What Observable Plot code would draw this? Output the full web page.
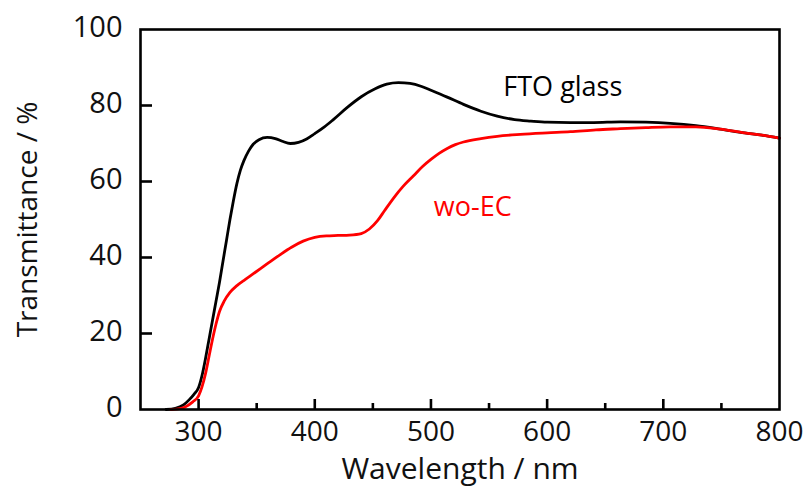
<!DOCTYPE html>
<html>
<head>
<meta charset="utf-8">
<script src="https://cdn.jsdelivr.net/npm/d3@7"></script>
<script src="https://cdn.jsdelivr.net/npm/@observablehq/plot@0.6"></script>
<style>
  html, body { margin: 0; padding: 0; background: #fff; }
  #chart svg { display: block; }
</style>
</head>
<body>
<div id="chart"></div>
<script>
// ---- Data ----
const ftoWavelength = [272, 280, 287, 292, 296, 300, 303, 306, 309, 312, 315, 318, 321, 324, 327, 330, 333, 336, 339, 343, 347, 352, 359, 366, 372, 379, 386, 393, 400, 408, 416, 428, 440, 452, 462, 472, 482, 492, 500, 514, 528, 543, 557, 572, 586, 600, 620, 640, 663, 685, 706, 728, 749, 770, 785, 800];
const ftoTransmittance = [0, 0.3, 1.2, 2.6, 4, 5.8, 9, 13.5, 18.5, 23.5, 28.5, 33.5, 39, 44.5, 50, 55, 59.5, 63, 65.5, 68, 69.8, 71, 71.6, 71.3, 70.6, 70, 70.3, 71.2, 72.6, 74.3, 76.3, 79.5, 82.3, 84.4, 85.6, 86, 85.8, 85, 84, 82.2, 80.3, 78.5, 77.2, 76.3, 75.9, 75.6, 75.5, 75.5, 75.7, 75.6, 75.3, 74.7, 73.8, 72.8, 72.2, 71.4];

const woWavelength = [276, 281, 288, 295, 300, 303, 306, 309, 312, 315, 318, 322, 327, 333, 340, 346, 353, 362, 370, 380, 390, 400, 410, 420, 430, 440, 447, 454, 460, 468, 476, 485, 493, 500, 507, 514, 521, 528, 543, 557, 577, 600, 620, 642, 663, 685, 706, 728, 749, 770, 785, 800];
const woTransmittance = [0, 0.1, 0.6, 2, 3.6, 6, 9.5, 14, 18.5, 22.5, 25.8, 28.5, 30.8, 32.6, 34.2, 35.5, 37, 39, 40.7, 42.7, 44.3, 45.3, 45.7, 45.8, 45.9, 46.3, 47.5, 49.7, 52.3, 55.7, 58.7, 61.5, 64, 65.8, 67.4, 68.7, 69.7, 70.4, 71.3, 71.9, 72.4, 72.8, 73.1, 73.6, 73.9, 74.2, 74.4, 74.4, 73.8, 72.8, 72.2, 71.4];

const seriesNames = ["FTO glass", "wo-EC"];
const seriesColors = ["#000000", "#ff0000"];
const labelWavelength = [613.5, 536];
const labelTransmittance = [84.7, 53.2];

const xMajorTicks = [300, 400, 500, 600, 700, 800];
const xMinorTicks = [350, 450, 550, 650, 750];
const yTicks = [0, 20, 40, 60, 80, 100];
const xTitle = "Wavelength / nm";
const yTitle = "Transmittance / %";

// ---- Build tables ----
const rows = [
  ...ftoWavelength.map((w, i) => ({series: seriesNames[0], w, t: ftoTransmittance[i]})),
  ...woWavelength.map((w, i) => ({series: seriesNames[1], w, t: woTransmittance[i]}))
];
const labels = seriesNames.map((name, i) => ({name, w: labelWavelength[i], t: labelTransmittance[i], color: seriesColors[i]}));

const W = 809, H = 488;
const mL = 140, mR = 30, mT = 29, mB = 79;
const plotW = W - mL - mR, plotH = H - mT - mB;
const font = "'Open Sans', 'Noto Sans', sans-serif";

const chart = Plot.plot({
  width: W,
  height: H,
  marginLeft: mL,
  marginRight: mR,
  marginTop: mT,
  marginBottom: mB,
  style: {fontFamily: font, background: "#fff", color: "#000"},
  x: {domain: [250, 800]},
  y: {domain: [0, 100]},
  color: {domain: seriesNames, range: seriesColors},
  marks: [
    // curves
    Plot.line(rows, {x: "w", y: "t", z: "series", stroke: "series", strokeWidth: 2.8, curve: "monotone-x"}),
    // frame
    Plot.frame({stroke: "#000", strokeWidth: 2.6}),
    // inward ticks
    Plot.tickY(yTicks.filter(d => d > 0 && d < 100), {y: d => d, insetRight: plotW - 12, stroke: "#000", strokeWidth: 2.6}),
    Plot.tickX(xMajorTicks.filter(d => d < 800), {x: d => d, insetTop: plotH - 10, stroke: "#000", strokeWidth: 2.6}),
    Plot.tickX(xMinorTicks, {x: d => d, insetTop: plotH - 6, stroke: "#000", strokeWidth: 2.6}),
    // tick labels
    Plot.axisX(xMajorTicks, {tickSize: 0, tickPadding: 12, fontSize: 28, label: null, fill: "#111"}),
    Plot.axisY(yTicks, {tickSize: 0, tickPadding: 18, fontSize: 29, label: null, dy: -2, fill: "#111"}),
    // axis titles
    Plot.text([xTitle], {frameAnchor: "bottom", textAnchor: "middle", lineAnchor: "bottom", dy: 69, fontSize: 30, fill: "#111"}),
    Plot.text([yTitle], {frameAnchor: "left", textAnchor: "middle", lineAnchor: "top", rotate: -90, dx: -123, fontSize: 28, fill: "#111"}),
    // series annotations
    Plot.text(labels, {x: "w", y: "t", text: "name", fill: "color", fontSize: 27, textAnchor: "middle", lineAnchor: "middle"})
  ]
});

document.getElementById("chart").appendChild(chart);
</script>
</body>
</html>
